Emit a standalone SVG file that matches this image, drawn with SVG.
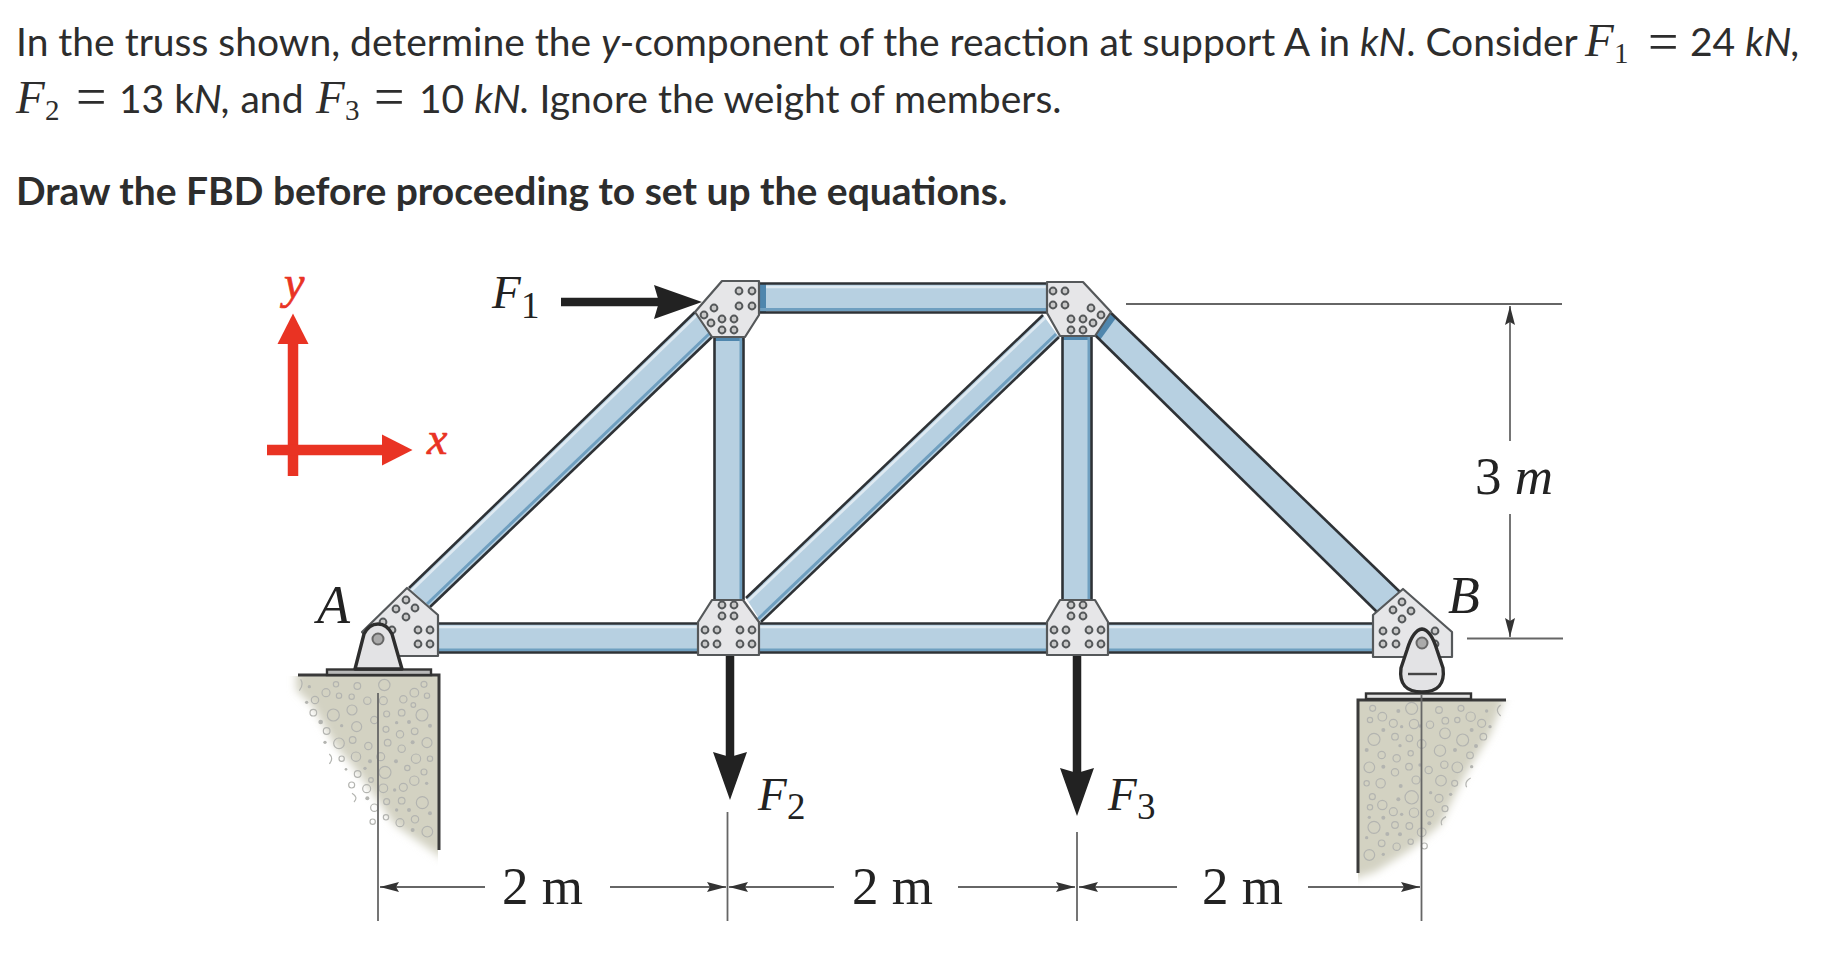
<svg xmlns="http://www.w3.org/2000/svg" width="1832" height="964" viewBox="0 0 1832 964">
<style>
.t{font-family:"Lato","Noto Sans",sans-serif;font-size:39px;fill:#2d2d2d}
.i{font-style:italic}
.b{font-weight:700}
.m{font-family:"Liberation Serif",serif;font-style:italic;font-size:47px;fill:#2d2d2d}
.ms{font-family:"Liberation Serif",serif;font-size:29px;fill:#2d2d2d}
.eq{font-family:"Liberation Serif",serif;font-size:54px;fill:#2d2d2d}
.l{font-family:"Liberation Serif",serif;fill:#222}
.fl{font-size:47px;font-style:italic}
.fs{font-size:37px}
.dl{font-size:53px}
.red{font-family:"Liberation Serif",serif;font-style:italic;font-size:46px;fill:#e93323;stroke:#e93323;stroke-width:.7}
.fill{fill:#b7d0e1;stroke:none}
.edge{stroke:#2e3236;stroke-width:2.6;fill:none}
.hi{stroke:#dfeaf2;stroke-width:2.5;fill:none}
.sh{stroke:#6f9fc0;stroke-width:3;fill:none}
.band{fill:#4f86ad;stroke:none}
.plate{fill:#e6e6e8;stroke:#55585a;stroke-width:2.2;stroke-linejoin:round}
.bolt{fill:#c9c9c9;stroke:#55585a;stroke-width:2}
.dim{stroke:#666;stroke-width:1.8;fill:none}
.force{stroke:#222;stroke-width:8.5;fill:none}
.axis{stroke:#e93323;stroke-width:10.5;fill:none}
.pin{fill:#e3e3e5;stroke:#2e2e2e;stroke-width:3.4;stroke-linejoin:round}
.conc{fill:#d3d2c2;stroke:none}
.wall{stroke:#3a3a3a;stroke-width:3;fill:none}
.peb circle{fill:none;stroke:#b3b4b0;stroke-width:3.5}
.peb circle.d{fill:#b3b4b0;stroke:none}
.peb path{fill:none;stroke:#b3b4b0;stroke-width:3.5}
</style>
<defs>
<marker id="fh" markerUnits="userSpaceOnUse" markerWidth="60" markerHeight="40" viewBox="0 -20 60 40" refX="8" refY="0" orient="auto"><path d="M0,-17 L5,0 L0,17 L48,0 Z" fill="#222"/></marker>
<marker id="rh" markerUnits="userSpaceOnUse" markerWidth="36" markerHeight="36" viewBox="0 -18 36 36" refX="1" refY="0" orient="auto"><path d="M0,-15.5 L0,15.5 L30.5,0 Z" fill="#e93323"/></marker>
<marker id="dh" markerUnits="userSpaceOnUse" markerWidth="24" markerHeight="14" viewBox="0 -7 24 14" refX="19" refY="0" orient="auto"><path d="M0,-5 L3,0 L0,5 L19,0 Z" fill="#333"/></marker>
<filter id="soft" x="-20%" y="-20%" width="140%" height="140%"><feGaussianBlur stdDeviation="4"/></filter>
<clipPath id="ca"><rect x="285" y="676" width="153" height="190"/></clipPath>
<clipPath id="cb"><rect x="1358" y="700" width="165" height="190"/></clipPath>
</defs>
<rect width="1832" height="964" fill="#fff"/>

<g id="question">
<text class="t" x="16" y="56">In the truss shown, determine the <tspan class="i">y</tspan>-component of the reaction at support A in <tspan class="i">kN</tspan>. Consider</text>
<text class="m" x="1585" y="56">F</text><text class="ms" x="1614" y="63">1</text>
<text class="eq" x="1648" y="60">=</text>
<text class="t" x="1690" y="56">24 <tspan class="i">kN,</tspan></text>
<text class="m" x="16" y="113">F</text><text class="ms" x="45" y="120">2</text>
<text class="eq" x="76" y="115">=</text>
<text class="t" x="119" y="113">13 k<tspan class="i">N,</tspan> and</text>
<text class="m" x="316" y="113">F</text><text class="ms" x="345" y="120">3</text>
<text class="eq" x="374" y="115">=</text>
<text class="t" x="419" y="113">10 <tspan class="i">kN.</tspan> Ignore the weight of members.</text>
<text class="t b" x="16" y="205">Draw the FBD before proceeding to set up the equations.</text>
</g>

<g id="axes">
<line class="axis" x1="293" y1="476" x2="293" y2="343" marker-end="url(#rh)"/>
<line class="axis" x1="267" y1="450" x2="383" y2="450" marker-end="url(#rh)"/>
<text class="red" x="284" y="298">y</text>
<text class="red" x="427" y="454">x</text>
</g>

<g id="support-A">
<polygon class="conc" clip-path="url(#ca)" filter="url(#soft)" points="296,670 445,670 445,860 425,846 395,825 360,775 335,745 312,705 296,690"/>
<g class="peb" transform="translate(290,570) scale(.3333)">
<path d="M32,328 Q42,345 28,362 M118,552 Q132,565 118,582 M186,670 Q206,682 192,696"/>
<circle cx="283" cy="345" r="17"/><circle cx="202" cy="348" r="10"/><circle cx="138" cy="343" r="8"/><circle cx="108" cy="368" r="12"/><circle cx="373" cy="368" r="13"/><circle cx="75" cy="390" r="11"/><circle cx="147" cy="377" r="8"/><circle cx="185" cy="380" r="8"/><circle cx="232" cy="392" r="11"/><circle cx="340" cy="388" r="11"/><circle cx="411" cy="377" r="8"/><circle cx="402" cy="343" r="9"/><circle cx="280" cy="392" r="12"/><circle cx="130" cy="435" r="18"/><circle cx="186" cy="420" r="15"/><circle cx="396" cy="435" r="18"/><circle cx="70" cy="428" r="10"/><circle cx="290" cy="432" r="9"/><circle cx="335" cy="428" r="10"/><circle cx="370" cy="405" r="7"/><circle cx="200" cy="470" r="15"/><circle cx="253" cy="450" r="11"/><circle cx="288" cy="478" r="9"/><circle cx="110" cy="483" r="10"/><circle cx="330" cy="493" r="11"/><circle cx="374" cy="484" r="10"/><circle cx="147" cy="520" r="16"/><circle cx="188" cy="510" r="10"/><circle cx="235" cy="528" r="11"/><circle cx="293" cy="518" r="10"/><circle cx="335" cy="536" r="11"/><circle cx="411" cy="518" r="15"/><circle cx="198" cy="560" r="14"/><circle cx="155" cy="566" r="8"/><circle cx="272" cy="560" r="12"/><circle cx="378" cy="566" r="14"/><circle cx="420" cy="566" r="8"/><circle cx="203" cy="612" r="10"/><circle cx="285" cy="607" r="18"/><circle cx="352" cy="594" r="8"/><circle cx="402" cy="606" r="9"/><circle cx="373" cy="632" r="14"/><circle cx="243" cy="630" r="7"/><circle cx="185" cy="645" r="9"/><circle cx="230" cy="656" r="12"/><circle cx="280" cy="655" r="13"/><circle cx="340" cy="652" r="12"/><circle cx="397" cy="698" r="18"/><circle cx="335" cy="692" r="10"/><circle cx="290" cy="695" r="9"/><circle cx="253" cy="713" r="11"/><circle cx="375" cy="748" r="11"/><circle cx="288" cy="742" r="8"/><circle cx="248" cy="755" r="8"/><circle cx="330" cy="758" r="12"/><circle cx="412" cy="785" r="16"/>
<circle class="d" cx="58" cy="350" r="5"/><circle class="d" cx="50" cy="397" r="5"/><circle class="d" cx="92" cy="456" r="7"/><circle class="d" cx="105" cy="517" r="5"/><circle class="d" cx="155" cy="467" r="5"/><circle class="d" cx="320" cy="458" r="5"/><circle class="d" cx="357" cy="456" r="6"/><circle class="d" cx="420" cy="467" r="6"/><circle class="d" cx="368" cy="517" r="6"/><circle class="d" cx="240" cy="574" r="6"/><circle class="d" cx="318" cy="574" r="6"/><circle class="d" cx="225" cy="595" r="5"/><circle class="d" cx="168" cy="598" r="4"/><circle class="d" cx="232" cy="685" r="6"/><circle class="d" cx="314" cy="660" r="5"/><circle class="d" cx="410" cy="640" r="5"/><circle class="d" cx="320" cy="720" r="5"/><circle class="d" cx="357" cy="720" r="6"/><circle class="d" cx="420" cy="730" r="6"/><circle class="d" cx="368" cy="780" r="6"/>
</g>
<path class="wall" d="M298,675 H439 V850"/>
<rect x="327" y="669.5" width="104" height="5.5" fill="#b9b9b9" stroke="#333" stroke-width="2.4"/>
</g>

<g id="support-B">
<polygon class="conc" clip-path="url(#cb)" filter="url(#soft)" points="1350,695 1506,695 1490,735 1465,775 1440,825 1410,850 1375,872 1350,880"/>
<g class="peb" transform="translate(1340,570) scale(.3333)">
<path d="M482,405 Q462,420 482,438 M392,624 Q372,635 380,652 M318,740 Q298,750 306,766"/>
<circle cx="215" cy="415" r="18"/><circle cx="98" cy="415" r="9"/><circle cx="127" cy="440" r="13"/><circle cx="297" cy="420" r="10"/><circle cx="363" cy="415" r="9"/><circle cx="392" cy="440" r="14"/><circle cx="160" cy="460" r="12"/><circle cx="222" cy="462" r="14"/><circle cx="270" cy="464" r="11"/><circle cx="316" cy="452" r="10"/><circle cx="352" cy="450" r="8"/><circle cx="425" cy="460" r="12"/><circle cx="90" cy="450" r="8"/><circle cx="102" cy="508" r="18"/><circle cx="165" cy="500" r="10"/><circle cx="208" cy="505" r="10"/><circle cx="315" cy="490" r="16"/><circle cx="368" cy="510" r="18"/><circle cx="430" cy="500" r="10"/><circle cx="245" cy="522" r="13"/><circle cx="125" cy="555" r="11"/><circle cx="170" cy="565" r="11"/><circle cx="212" cy="550" r="8"/><circle cx="300" cy="542" r="17"/><circle cx="390" cy="556" r="10"/><circle cx="88" cy="592" r="16"/><circle cx="165" cy="607" r="11"/><circle cx="207" cy="590" r="10"/><circle cx="266" cy="600" r="11"/><circle cx="313" cy="584" r="11"/><circle cx="352" cy="592" r="16"/><circle cx="80" cy="640" r="8"/><circle cx="122" cy="640" r="14"/><circle cx="228" cy="630" r="12"/><circle cx="303" cy="632" r="16"/><circle cx="344" cy="640" r="9"/><circle cx="97" cy="680" r="9"/><circle cx="215" cy="682" r="20"/><circle cx="297" cy="685" r="12"/><circle cx="127" cy="705" r="14"/><circle cx="90" cy="712" r="8"/><circle cx="160" cy="725" r="12"/><circle cx="222" cy="728" r="14"/><circle cx="270" cy="730" r="11"/><circle cx="315" cy="716" r="9"/><circle cx="102" cy="772" r="18"/><circle cx="165" cy="765" r="10"/><circle cx="208" cy="768" r="10"/><circle cx="245" cy="787" r="13"/><circle cx="125" cy="820" r="10"/><circle cx="170" cy="830" r="11"/><circle cx="212" cy="815" r="8"/><circle cx="253" cy="828" r="9"/><circle cx="88" cy="855" r="16"/>
<circle class="d" cx="175" cy="423" r="6"/><circle class="d" cx="440" cy="423" r="5"/><circle class="d" cx="450" cy="470" r="5"/><circle class="d" cx="185" cy="470" r="5"/><circle class="d" cx="240" cy="468" r="5"/><circle class="d" cx="130" cy="480" r="6"/><circle class="d" cx="395" cy="480" r="6"/><circle class="d" cx="80" cy="540" r="6"/><circle class="d" cx="180" cy="527" r="5"/><circle class="d" cx="345" cy="540" r="6"/><circle class="d" cx="408" cy="528" r="6"/><circle class="d" cx="395" cy="590" r="5"/><circle class="d" cx="130" cy="590" r="6"/><circle class="d" cx="240" cy="585" r="5"/><circle class="d" cx="182" cy="648" r="6"/><circle class="d" cx="332" cy="673" r="5"/><circle class="d" cx="272" cy="668" r="5"/><circle class="d" cx="175" cy="688" r="6"/><circle class="d" cx="185" cy="733" r="5"/><circle class="d" cx="130" cy="743" r="6"/><circle class="d" cx="88" cy="742" r="5"/><circle class="d" cx="268" cy="760" r="6"/><circle class="d" cx="142" cy="792" r="6"/><circle class="d" cx="180" cy="793" r="6"/><circle class="d" cx="80" cy="803" r="5"/><circle class="d" cx="130" cy="853" r="5"/>
</g>
<path class="wall" d="M1506,700 H1358 V873"/>
<rect x="1366" y="693.5" width="105" height="5.5" fill="#e2e2e2" stroke="#333" stroke-width="2.4"/>
</g>

<g id="connectors">
<g id="member-AC">
<polygon class="fill" points="409,588 695,312 713,336 430,607"/>
<line class="hi" x1="411" y1="591" x2="697" y2="315"/><line class="sh" x1="427" y1="604" x2="710" y2="333"/>
<line class="edge" x1="409" y1="588" x2="695" y2="312"/><line class="edge" x1="430" y1="607" x2="713" y2="336"/>
</g>
<g id="member-DE">
<polygon class="fill" points="746,598 1043,315 1059,337 761,622"/>
<line class="hi" x1="748" y1="601" x2="1045" y2="318"/><line class="sh" x1="758" y1="619" x2="1056" y2="334"/>
<line class="edge" x1="746" y1="598" x2="1043" y2="315"/><line class="edge" x1="761" y1="622" x2="1059" y2="337"/>
</g>
<g id="member-FB">
<polygon class="fill" points="1111,313 1400,592 1377,612 1095,335"/>
<polygon class="band" points="1111,313 1116,318 1100,340 1095,335"/>
<line class="edge" x1="1111" y1="313" x2="1400" y2="592"/><line class="edge" x1="1095" y1="335" x2="1377" y2="612"/>
</g>
<g id="member-CF">
<rect class="fill" x="759" y="283" width="288" height="30"/>
<rect class="band" x="759" y="283" width="7" height="30"/>
<line class="hi" x1="766" y1="287" x2="1047" y2="287"/><line class="sh" x1="759" y1="309.5" x2="1047" y2="309.5"/>
<line class="edge" x1="759" y1="283.5" x2="1047" y2="283.5"/><line class="edge" x1="759" y1="312.5" x2="1047" y2="312.5"/>
</g>
<g id="member-CD">
<rect class="fill" x="714" y="337" width="30" height="263"/>
<rect class="band" x="714" y="337" width="30" height="4"/>
<line class="sh" x1="741" y1="337" x2="741" y2="600"/>
<line class="edge" x1="714.5" y1="337" x2="714.5" y2="600"/><line class="edge" x1="743.5" y1="337" x2="743.5" y2="600"/>
</g>
<g id="member-FE">
<rect class="fill" x="1062" y="336" width="30" height="264"/>
<rect class="band" x="1062" y="336" width="30" height="4"/>
<line class="sh" x1="1089" y1="336" x2="1089" y2="600"/>
<line class="edge" x1="1062.5" y1="336" x2="1062.5" y2="600"/><line class="edge" x1="1091.5" y1="336" x2="1091.5" y2="600"/>
</g>
<g id="member-AD">
<rect class="fill" x="438" y="623" width="260" height="30"/>
<line class="hi" x1="438" y1="627" x2="698" y2="627"/><line class="sh" x1="438" y1="650" x2="698" y2="650"/>
<line class="edge" x1="438" y1="623.5" x2="698" y2="623.5"/><line class="edge" x1="438" y1="652.5" x2="698" y2="652.5"/>
</g>
<g id="member-DE2">
<rect class="fill" x="759" y="623" width="288" height="30"/>
<line class="hi" x1="759" y1="627" x2="1047" y2="627"/><line class="sh" x1="759" y1="650" x2="1047" y2="650"/>
<line class="edge" x1="759" y1="623.5" x2="1047" y2="623.5"/><line class="edge" x1="759" y1="652.5" x2="1047" y2="652.5"/>
</g>
<g id="member-EB">
<rect class="fill" x="1108" y="623" width="265" height="30"/>
<line class="hi" x1="1108" y1="627" x2="1373" y2="627"/><line class="sh" x1="1108" y1="650" x2="1373" y2="650"/>
<line class="edge" x1="1108" y1="623.5" x2="1373" y2="623.5"/><line class="edge" x1="1108" y1="652.5" x2="1373" y2="652.5"/>
</g>

<g id="forces">
<line class="force" x1="561" y1="302" x2="662" y2="302" marker-end="url(#fh)"/>
<line class="force" x1="730" y1="655" x2="730" y2="760" marker-end="url(#fh)"/>
<line class="force" x1="1077" y1="655" x2="1077" y2="776" marker-end="url(#fh)"/>
</g>

<g id="dimensions">
<line class="dim" x1="378" y1="693" x2="378" y2="921"/>
<line class="dim" x1="727.5" y1="812" x2="727.5" y2="921"/>
<line class="dim" x1="1077" y1="832" x2="1077" y2="921"/>
<line class="dim" x1="1421.5" y1="695" x2="1421.5" y2="921"/>
<line class="dim" x1="485" y1="887" x2="380" y2="887" marker-end="url(#dh)"/>
<line class="dim" x1="610" y1="887" x2="726" y2="887" marker-end="url(#dh)"/>
<line class="dim" x1="834" y1="887" x2="729" y2="887" marker-end="url(#dh)"/>
<line class="dim" x1="958" y1="887" x2="1075" y2="887" marker-end="url(#dh)"/>
<line class="dim" x1="1177" y1="887" x2="1079" y2="887" marker-end="url(#dh)"/>
<line class="dim" x1="1308" y1="887" x2="1420" y2="887" marker-end="url(#dh)"/>
<line class="dim" x1="1126" y1="304" x2="1562" y2="304" stroke-width="2.4"/>
<line class="dim" x1="1467" y1="638.5" x2="1563" y2="638.5" stroke-width="2.4"/>
<line class="dim" x1="1510" y1="441" x2="1510" y2="306" marker-end="url(#dh)"/>
<line class="dim" x1="1510" y1="514" x2="1510" y2="637" marker-end="url(#dh)"/>
</g>
</g>

<g id="joint-C">
<polygon class="plate" points="722,281 759,281 759,315 745,337 712,337 695,312"/>
<g class="bolt"><circle cx="739" cy="291" r="3.4"/><circle cx="752" cy="291" r="3.4"/><circle cx="739" cy="306" r="3.4"/><circle cx="752" cy="306" r="3.4"/><circle cx="714" cy="308" r="3.4"/><circle cx="704" cy="315" r="3.4"/><circle cx="711" cy="323" r="3.4"/><circle cx="722" cy="319" r="3.4"/><circle cx="734" cy="319" r="3.4"/><circle cx="722" cy="330" r="3.4"/><circle cx="734" cy="330" r="3.4"/></g>
</g>
<g id="joint-F">
<polygon class="plate" points="1047,282 1083,282 1111,312 1095,336 1060,336 1047,313"/>
<g class="bolt"><circle cx="1053" cy="291" r="3.4"/><circle cx="1065" cy="291" r="3.4"/><circle cx="1053" cy="305" r="3.4"/><circle cx="1065" cy="305" r="3.4"/><circle cx="1091" cy="308" r="3.4"/><circle cx="1101" cy="315" r="3.4"/><circle cx="1093" cy="323" r="3.4"/><circle cx="1083" cy="319" r="3.4"/><circle cx="1071" cy="319" r="3.4"/><circle cx="1083" cy="330" r="3.4"/><circle cx="1071" cy="330" r="3.4"/></g>
</g>
<g id="joint-D">
<polygon class="plate" points="712,600 743,600 759,622 759,655 698,655 698,622"/>
<g class="bolt"><circle cx="722" cy="605" r="3.4"/><circle cx="734" cy="605" r="3.4"/><circle cx="722" cy="616" r="3.4"/><circle cx="734" cy="616" r="3.4"/><circle cx="705" cy="630" r="3.4"/><circle cx="717" cy="630" r="3.4"/><circle cx="705" cy="644" r="3.4"/><circle cx="717" cy="644" r="3.4"/><circle cx="740" cy="630" r="3.4"/><circle cx="752" cy="630" r="3.4"/><circle cx="740" cy="644" r="3.4"/><circle cx="752" cy="644" r="3.4"/></g>
</g>
<g id="joint-E">
<polygon class="plate" points="1060,600 1095,600 1108,622 1108,655 1047,655 1047,622"/>
<g class="bolt"><circle cx="1071" cy="605" r="3.4"/><circle cx="1083" cy="605" r="3.4"/><circle cx="1071" cy="616" r="3.4"/><circle cx="1083" cy="616" r="3.4"/><circle cx="1054" cy="630" r="3.4"/><circle cx="1066" cy="630" r="3.4"/><circle cx="1054" cy="644" r="3.4"/><circle cx="1066" cy="644" r="3.4"/><circle cx="1089" cy="630" r="3.4"/><circle cx="1101" cy="630" r="3.4"/><circle cx="1089" cy="644" r="3.4"/><circle cx="1101" cy="644" r="3.4"/></g>
</g>
<g id="joint-A">
<polygon class="plate" points="407,588 438,615 438,656 385,656 362,632"/>
<g class="bolt"><circle cx="406" cy="600" r="3.4"/><circle cx="396" cy="609" r="3.4"/><circle cx="415" cy="608" r="3.4"/><circle cx="406" cy="617" r="3.4"/><circle cx="383" cy="622" r="3.4"/><circle cx="392" cy="630" r="3.4"/><circle cx="418" cy="630" r="3.4"/><circle cx="430" cy="630" r="3.4"/><circle cx="418" cy="644" r="3.4"/><circle cx="430" cy="644" r="3.4"/></g>
<path class="pin" d="M355,669 L364,634 Q369,624 378,624 Q387,624 392,634 L402,669 Z"/>
<circle cx="378" cy="639" r="5.5" fill="#aaa" stroke="#666" stroke-width="2"/>
</g>
<g id="joint-B">
<polygon class="plate" points="1403,589 1452,632 1452,657 1373,657 1373,615"/>
<g class="bolt"><circle cx="1402" cy="602" r="3.4"/><circle cx="1393" cy="610" r="3.4"/><circle cx="1411" cy="611" r="3.4"/><circle cx="1402" cy="619" r="3.4"/><circle cx="1383" cy="631" r="3.4"/><circle cx="1396" cy="631" r="3.4"/><circle cx="1383" cy="644" r="3.4"/><circle cx="1396" cy="644" r="3.4"/><circle cx="1435" cy="631" r="3.4"/><circle cx="1435" cy="644" r="3.4"/></g>
<path class="pin" d="M1422,629 Q1431,630 1437,650 L1443,668 Q1446,692 1422,692 Q1398,692 1401,668 L1407,650 Q1413,630 1422,629 Z"/>
<circle cx="1422" cy="643" r="5.5" fill="#aaa" stroke="#666" stroke-width="2"/>
<line x1="1408" y1="674" x2="1437" y2="674" stroke="#444" stroke-width="2.4"/>
</g>

<g id="labels">
<text class="l fl" x="492" y="308">F</text><text class="l fs" x="521" y="318">1</text>
<text class="l fl" x="758" y="810">F</text><text class="l fs" x="787" y="819">2</text>
<text class="l fl" x="1108" y="810">F</text><text class="l fs" x="1137" y="819">3</text>
<text class="l fl" x="317" y="623" style="font-size:54px">A</text>
<text class="l fl" x="1448" y="613" style="font-size:52px">B</text>
<text class="l dl" x="502" y="904">2 m</text>
<text class="l dl" x="852" y="904">2 m</text>
<text class="l dl" x="1202" y="904">2 m</text>
<text class="l dl" x="1475" y="494">3 <tspan font-style="italic">m</tspan></text>
</g>
</svg>
